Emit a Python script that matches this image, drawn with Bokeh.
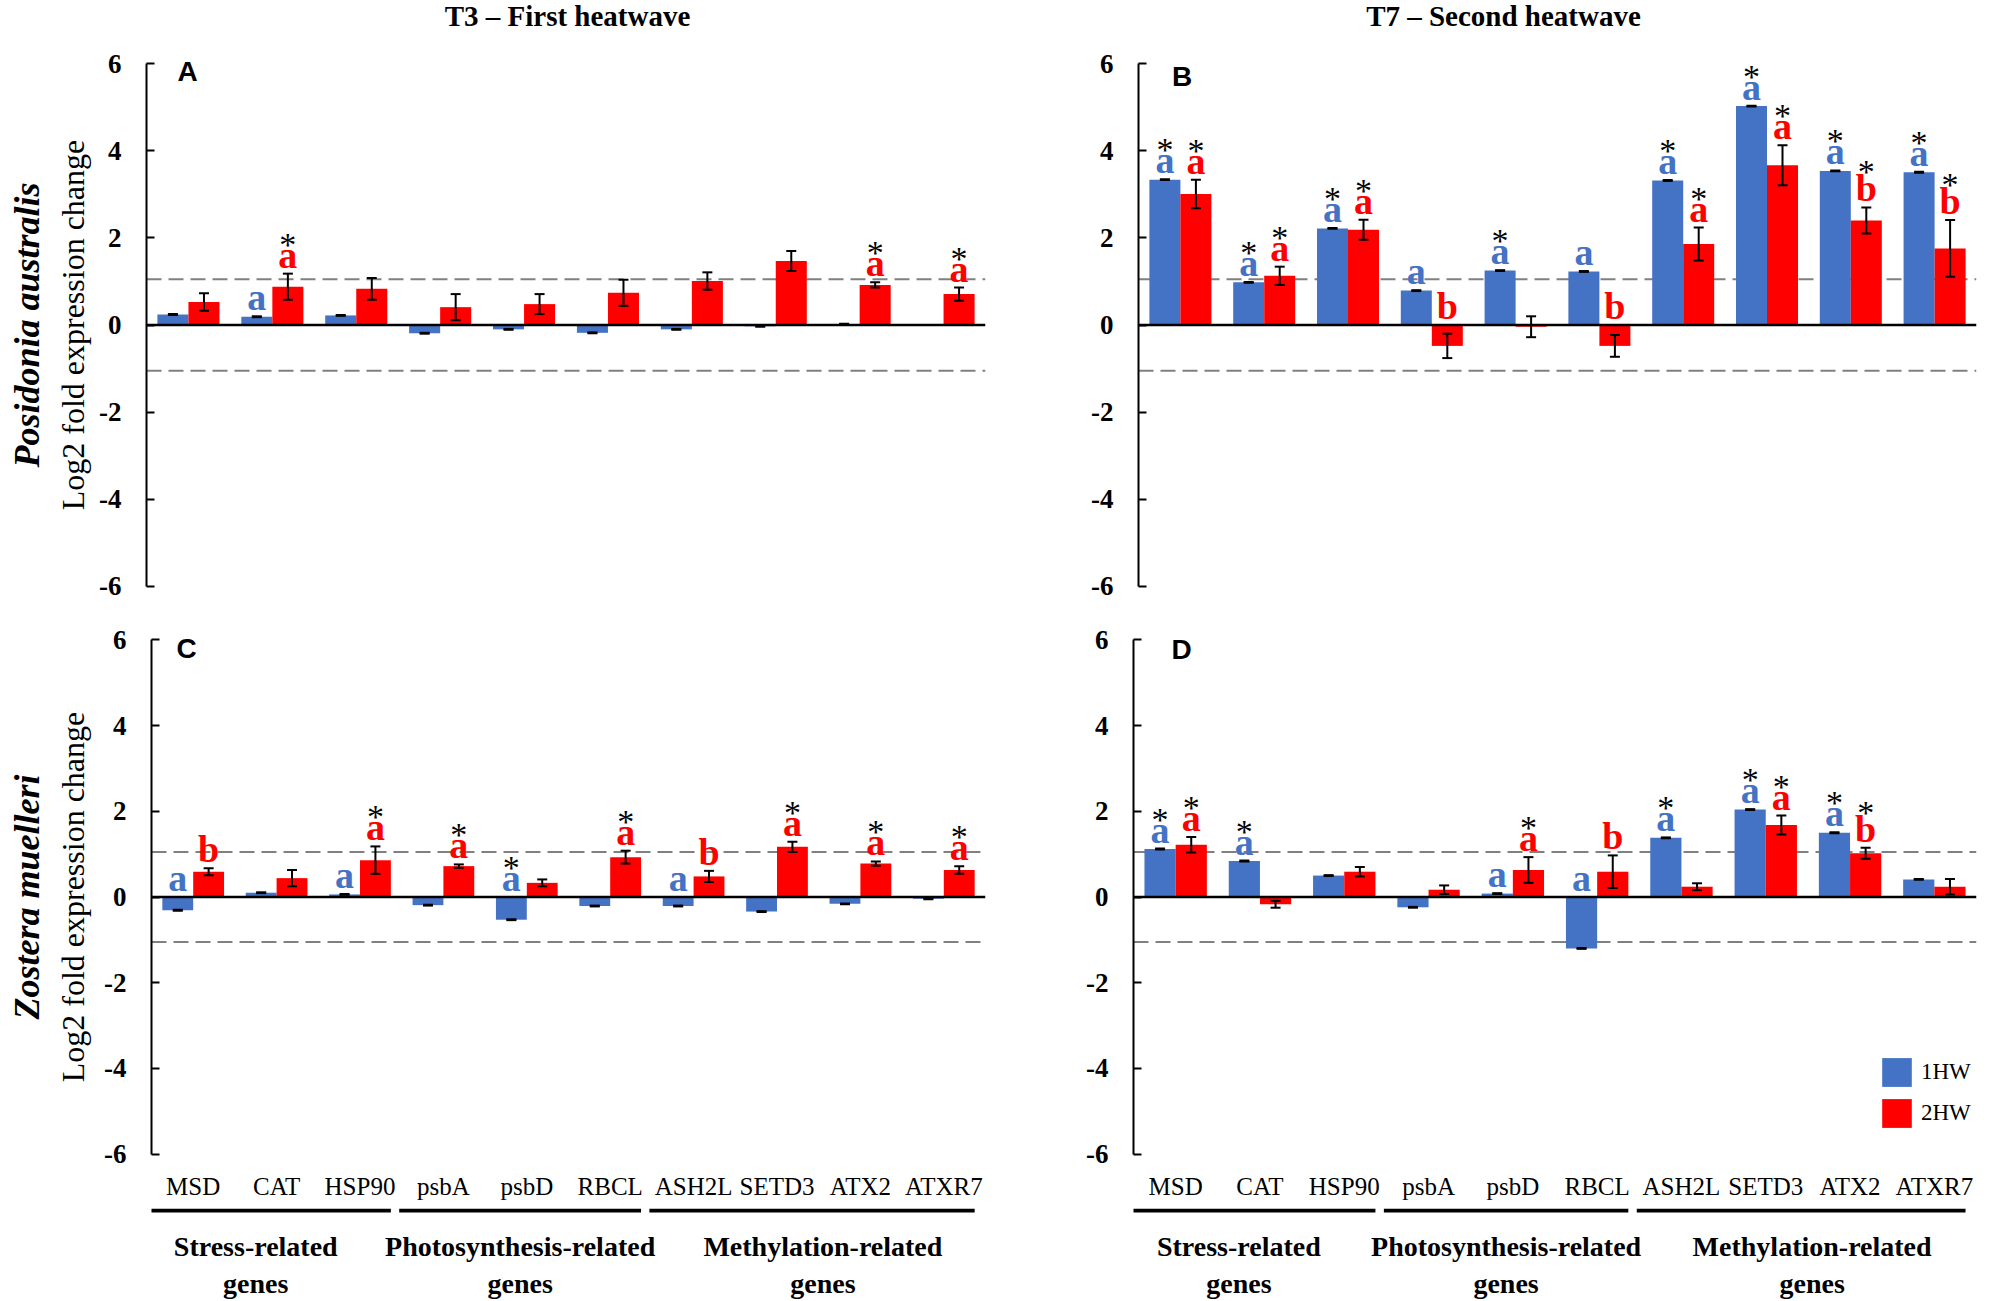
import math
from bokeh.plotting import figure
from bokeh.models import (FactorRange, Range1d, Span, Whisker, TeeHead, ColumnDataSource,
                          FixedTicker, Label, Legend, LegendItem, Spacer)
from bokeh.transform import dodge
from bokeh.layouts import column, row
from bokeh.core.properties import value
from bokeh.embed import file_html
from bokeh.resources import INLINE

# ---------------- data ----------------
genes = ["MSD", "CAT", "HSP90", "psbA", "psbD", "RBCL", "ASH2L", "SETD3", "ATX2", "ATXR7"]
group_line1 = ["Stress-related", "Photosynthesis-related", "Methylation-related"]
group_line2 = ["genes", "genes", "genes"]
group_sizes = [3, 3, 4]
series_names = ["1HW", "2HW"]
threshold = 1.05
y_ticks = [-6, -4, -2, 0, 2, 4, 6]
col_titles = ["T3 – First heatwave", "T7 – Second heatwave"]
species = ["Posidonia australis", "Zostera muelleri"]
y_label = "Log2 fold expression change"

# Panel A: Posidonia australis, T3
A_1HW = [0.24, 0.19, 0.22, -0.19, -0.10, -0.18, -0.10, -0.03, 0.02, 0.00]
A_1HW_err = [0.01, 0.01, 0.01, 0.01, 0.01, 0.01, 0.01, 0.01, 0.01, 0.00]
A_2HW = [0.53, 0.88, 0.83, 0.41, 0.48, 0.74, 1.01, 1.47, 0.92, 0.71]
A_2HW_err = [0.20, 0.30, 0.25, 0.30, 0.23, 0.30, 0.20, 0.23, 0.06, 0.15]
A_1HW_let = ["", "a", "", "", "", "", "", "", "", ""]
A_2HW_let = ["", "a", "", "", "", "", "", "", "a", "a"]
A_1HW_sig = ["", "", "", "", "", "", "", "", "", ""]
A_2HW_sig = ["", "*", "", "", "", "", "", "", "*", "*"]

# Panel B: Posidonia australis, T7
B_1HW = [3.34, 0.98, 2.22, 0.79, 1.25, 1.23, 3.32, 5.03, 3.54, 3.51]
B_1HW_err = [0.01] * 10
B_2HW = [3.01, 1.13, 2.19, -0.48, -0.04, -0.48, 1.86, 3.67, 2.40, 1.76]
B_2HW_err = [0.33, 0.21, 0.23, 0.28, 0.24, 0.25, 0.38, 0.46, 0.30, 0.65]
B_1HW_let = ["a", "a", "a", "a", "a", "a", "a", "a", "a", "a"]
B_2HW_let = ["a", "a", "a", "b", "", "b", "a", "a", "b", "b"]
B_1HW_sig = ["*", "*", "*", "", "*", "", "*", "*", "*", "*"]
B_2HW_sig = ["*", "*", "*", "", "", "", "*", "*", "*", "*"]

# Panel C: Zostera muelleri, T3
C_1HW = [-0.31, 0.10, 0.06, -0.19, -0.53, -0.21, -0.21, -0.34, -0.16, -0.04]
C_1HW_err = [0.01] * 10
C_2HW = [0.59, 0.44, 0.86, 0.72, 0.33, 0.93, 0.48, 1.17, 0.78, 0.63]
C_2HW_err = [0.08, 0.19, 0.32, 0.04, 0.08, 0.15, 0.13, 0.12, 0.05, 0.09]
C_1HW_let = ["a", "", "a", "", "a", "", "a", "", "", ""]
C_2HW_let = ["b", "", "a", "a", "", "a", "b", "a", "a", "a"]
C_1HW_sig = ["", "", "", "", "*", "", "", "", "", ""]
C_2HW_sig = ["", "", "*", "*", "", "*", "", "*", "*", "*"]

# Panel D: Zostera muelleri, T7
D_1HW = [1.12, 0.84, 0.50, -0.24, 0.08, -1.20, 1.38, 2.04, 1.50, 0.41]
D_1HW_err = [0.01] * 10
D_2HW = [1.22, -0.17, 0.59, 0.17, 0.63, 0.59, 0.24, 1.68, 1.02, 0.24]
D_2HW_err = [0.18, 0.08, 0.11, 0.10, 0.30, 0.38, 0.08, 0.22, 0.13, 0.18]
D_1HW_let = ["a", "a", "", "", "a", "a", "a", "a", "a", ""]
D_2HW_let = ["a", "", "", "", "a", "b", "", "a", "b", ""]
D_1HW_sig = ["*", "*", "", "", "", "", "*", "*", "*", ""]
D_2HW_sig = ["*", "", "", "", "*", "", "", "*", "*", ""]

# ---------------- style ----------------
BLUE = "#4472C4"
RED = "#FF0000"
SERIF = "Liberation Serif"
SANS = "Liberation Sans"
OFF = 0.185
BW = 0.37
YR = (-6.1, 6.1)
SIDE_W = 96


def bare(p):
    p.outline_line_color = None
    p.background_fill_color = "white"
    p.border_fill_color = "white"
    for g in (p.xgrid, p.ygrid):
        g.visible = False


def blank_fig(W, H, xr, yr, left=0, right=0, top=0, bottom=0):
    f = figure(x_range=xr, y_range=yr, width=W, height=H, output_backend="svg",
               toolbar_location=None, x_axis_location=None, y_axis_location=None,
               min_border_left=left, min_border_right=right,
               min_border_top=top, min_border_bottom=bottom)
    bare(f)
    return f


def make_panel(v1, e1, v2, e2, l1, l2, s1, s2, W, H, left, right, top, bottom,
               letter, letter_xy, show_x=False, legend_xy=None):
    p = figure(x_range=FactorRange(*genes), y_range=Range1d(*YR),
               width=W, height=H, output_backend="svg", toolbar_location=None,
               x_axis_location="below" if show_x else None,
               min_border_left=left, min_border_right=right,
               min_border_top=top, min_border_bottom=bottom)
    bare(p)

    ya = p.yaxis[0]
    ya.ticker = FixedTicker(ticks=y_ticks)
    ya.major_label_overrides = {t: str(t) for t in y_ticks}
    ya.bounds = (-6, 6)
    ya.major_tick_in = 8
    ya.major_tick_out = 0
    ya.minor_tick_in = 0
    ya.minor_tick_out = 0
    ya.minor_tick_line_color = None
    ya.axis_line_width = 2
    ya.major_tick_line_width = 2
    ya.major_label_text_font = SERIF
    ya.major_label_text_font_style = "bold"
    ya.major_label_text_font_size = "27px"
    ya.major_label_text_color = "black"
    ya.major_label_standoff = 25

    if show_x:
        xa = p.xaxis[0]
        xa.axis_line_color = None
        xa.major_tick_line_color = None
        xa.minor_tick_line_color = None
        xa.major_tick_out = 0
        xa.minor_tick_out = 0
        xa.major_label_text_font = SERIF
        xa.major_label_text_font_size = "25px"
        xa.major_label_text_color = "black"
        xa.major_label_standoff = 14

    u1 = [a + b for a, b in zip(v1, e1)]
    lo1 = [a - b for a, b in zip(v1, e1)]
    u2 = [a + b for a, b in zip(v2, e2)]
    lo2 = [a - b for a, b in zip(v2, e2)]
    ly1 = [max(u, 0) for u in u1]
    ly2 = [max(u, 0) for u in u2]
    so1 = [-35.5 if t == "b" else -29.5 for t in l1]
    so2 = [-35.5 if t == "b" else -29.5 for t in l2]
    src = ColumnDataSource(dict(gene=genes, v1=v1, v2=v2, u1=u1, lo1=lo1, u2=u2, lo2=lo2,
                                l1=l1, l2=l2, s1=s1, s2=s2, ly1=ly1, ly2=ly2,
                                so1=so1, so2=so2))

    for loc in (threshold, -threshold):
        p.add_layout(Span(location=loc, dimension="width", line_color="#808080",
                          line_width=2, line_dash="15 7", level="underlay"))

    r1 = p.vbar(x=dodge("gene", -OFF, range=p.x_range), top="v1", bottom=0, width=BW,
                source=src, fill_color=BLUE, line_color=None)
    r2 = p.vbar(x=dodge("gene", OFF, range=p.x_range), top="v2", bottom=0, width=BW,
                source=src, fill_color=RED, line_color=None)

    p.add_layout(Span(location=0, dimension="width", line_color="black", line_width=2.5))

    for off, up, lo in ((-OFF, "u1", "lo1"), (OFF, "u2", "lo2")):
        w = Whisker(source=src, base=dodge("gene", off, range=p.x_range), upper=up, lower=lo,
                    line_color="black", line_width=2, level="annotation",
                    upper_head=TeeHead(size=10, line_width=2, line_color="black"),
                    lower_head=TeeHead(size=10, line_width=2, line_color="black"))
        p.add_layout(w)

    for off, ly, lt, col, st, so in ((-OFF, "ly1", "l1", BLUE, "s1", "so1"),
                                     (OFF, "ly2", "l2", RED, "s2", "so2")):
        p.text(x=dodge("gene", off, range=p.x_range), y=ly, text=lt, source=src,
               text_color=col, text_font=value(SERIF), text_font_style="bold",
               text_font_size="38px", text_align="center", text_baseline="middle",
               y_offset=-19)
        p.text(x=dodge("gene", off, range=p.x_range), y=ly, text=st, source=src,
               text_color="black", text_font=value(SERIF), text_font_style="normal",
               text_font_size="34px", text_align="center", text_baseline="middle",
               y_offset=so)

    p.add_layout(Label(x=letter_xy[0], y=letter_xy[1], text=letter, text_font=SANS,
                       text_font_style="bold", text_font_size="28px", text_color="black",
                       text_align="center", text_baseline="middle"))
    if legend_xy is not None:
        leg = Legend(items=[LegendItem(label=series_names[0], renderers=[r1]),
                            LegendItem(label=series_names[1], renderers=[r2])],
                     location=legend_xy, padding=0, margin=0, spacing=5,
                     glyph_width=37, glyph_height=36, label_height=36, label_standoff=6,
                     label_text_font=SERIF, label_text_font_size="23px",
                     label_text_color="black", border_line_color=None,
                     background_fill_alpha=0)
        p.add_layout(leg)
    return p


def make_side(H, top, bottom, sp):
    s = blank_fig(SIDE_W, H, Range1d(0, SIDE_W), Range1d(*YR), top=top, bottom=bottom)
    s.text(x=[72], y=[0], text=[y_label], angle=math.pi / 2, text_font=value(SERIF),
           text_font_size="32px", text_align="center", text_baseline="middle",
           text_color="black")
    s.text(x=[26], y=[0], text=[sp], angle=math.pi / 2, text_font=value(SERIF),
           text_font_style="bold italic", text_font_size="36px", text_align="center",
           text_baseline="middle", text_color="black")
    return s


def make_strip(xr, W, left, right, H=91):
    s = blank_fig(W, H, xr, Range1d(H, 0), left=left, right=right)
    starts, ends = [], []
    acc = 0
    for n in group_sizes:
        starts.append(acc - 0.03)
        ends.append(acc + n - 0.13)
        acc += n
    s.segment(x0=starts, y0=[2] * 3, x1=ends, y1=[2] * 3, line_color="black", line_width=4)
    tx = [1.25, 4.42, 8.05]
    for yy, txt in ((37.5, group_line1), (74.5, group_line2)):
        s.text(x=tx, y=[yy] * 3, text=txt, text_font=value(SERIF), text_font_style="bold",
               text_font_size="28px", text_align="center", text_baseline="middle",
               text_color="black")
    return s


TOTAL_W = 1985
LEFT_W = 1000 - SIDE_W
tfig = blank_fig(TOTAL_W, 34, Range1d(0, TOTAL_W), Range1d(34, 0))
tfig.text(x=[567, 1503], y=[15.5, 15.5], text=col_titles, text_font=value(SERIF),
          text_font_style="bold", text_font_size="29px", text_align="center",
          text_baseline="middle", text_color="black")

pA = make_panel(A_1HW, A_1HW_err, A_2HW, A_2HW_err, A_1HW_let, A_2HW_let, A_1HW_sig, A_2HW_sig,
                LEFT_W, 566, 145 - 1000 + LEFT_W, 15, 25, 10, "A", (0.49, 5.83))
pB = make_panel(B_1HW, B_1HW_err, B_2HW, B_2HW_err, B_1HW_let, B_2HW_let, B_1HW_sig, B_2HW_sig,
                985, 566, 138, 9, 25, 10, "B", (0.52, 5.71))
pC = make_panel(C_1HW, C_1HW_err, C_2HW, C_2HW_err, C_1HW_let, C_2HW_let, C_1HW_sig, C_2HW_sig,
                LEFT_W, 608, 151 - 1000 + LEFT_W, 15, 35, 50, "C", (0.42, 5.79), show_x=True)
pD = make_panel(D_1HW, D_1HW_err, D_2HW, D_2HW_err, D_1HW_let, D_2HW_let, D_1HW_sig, D_2HW_sig,
                985, 608, 133, 9, 35, 50, "D", (0.57, 5.78), show_x=True,
                legend_xy=(745, 27))
sideA = make_side(566, 25, 10, species[0])
sideC = make_side(608, 35, 50, species[1])
sC = make_strip(pC.x_range, LEFT_W, 151 - 1000 + LEFT_W, 15)
sD = make_strip(pD.x_range, 985, 133, 9)

layout = column(tfig,
                row(sideA, pA, pB),
                row(sideC, pC, pD),
                row(Spacer(width=SIDE_W, height=91), sC, sD))
open("out.html", "w").write(file_html(layout, INLINE))
